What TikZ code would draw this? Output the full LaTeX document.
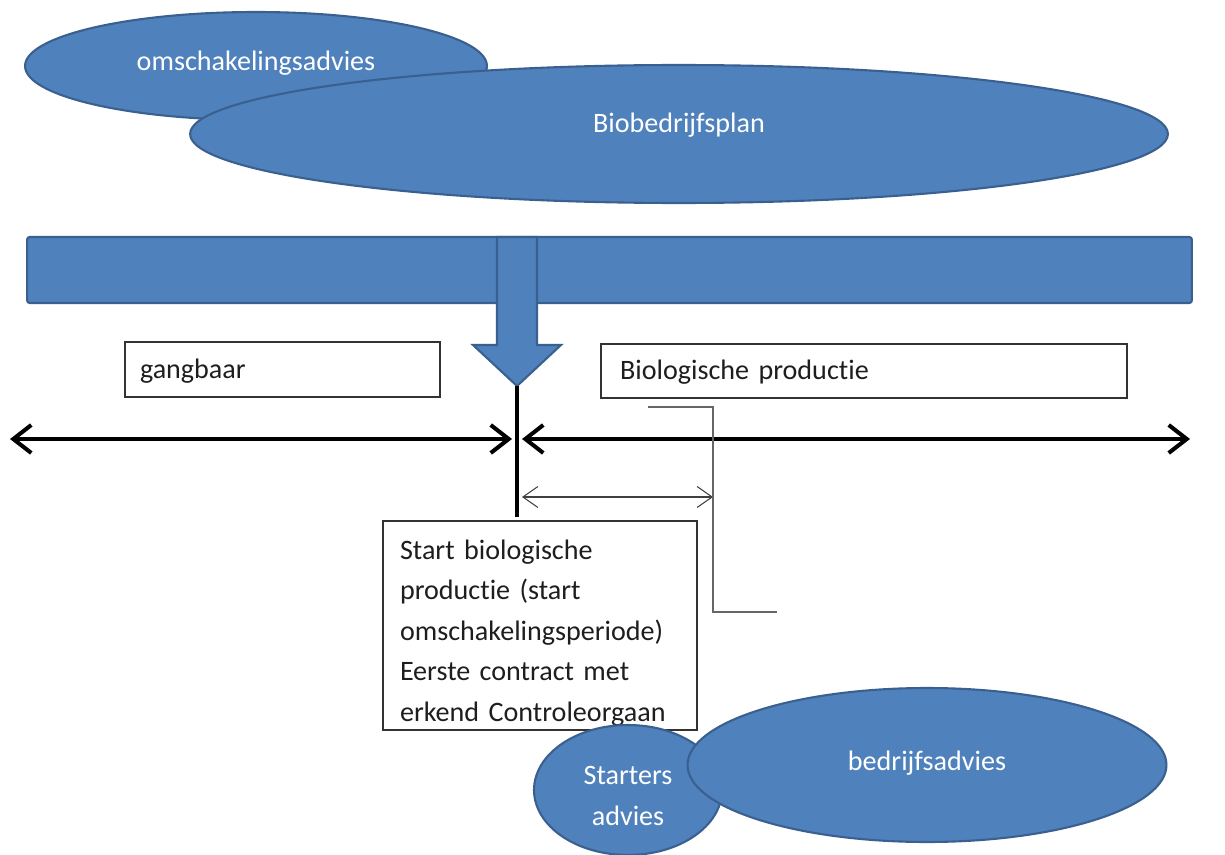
\documentclass[tikz,border=0pt]{standalone}
\usepackage{fontspec}
\setmainfont{Carlito}[Ligatures=NoCommon]
\usetikzlibrary{shapes.geometric,arrows.meta}

\definecolor{advblue}{HTML}{4F81BD}
\definecolor{advedge}{HTML}{3A6090}
\definecolor{boxtext}{HTML}{1E1E1E}

\begin{document}
\begin{tikzpicture}
[
	x	= 0.02cm,	% one unit is one pixel of the layout
	y	= -0.02cm,	% counted downwards, like the layout
	%
	%
	% ----------- options for the blue shapes --------------
	bubble/.style =
	{
		ellipse,
		fill		= advblue,
		draw		= advedge,
		line width	= 1.2pt,
		inner sep	= 0pt
	},
	%
	bubbletext/.style =
	{
		text		= white,
		font		= \fontsize{16}{23}\selectfont,
		align		= center,
		inner sep	= 0pt
	},
	%
	% ----------- options for the white boxes --------------
	infobox/.style =
	{
		draw		= black!80,
		fill		= white,
		line width	= 0.8pt,
		text		= boxtext,
		font		= \fontsize{16}{23}\selectfont,
		align		= left,
		inner ysep	= 0pt
	},
	%
	oneline/.style =
	{
		text height	= 0.42cm,
		text depth	= 0.08cm
	},
	%
	% ----------- options for the lines --------------
	timeline/.style =
	{
		line width	= 2.3pt,
		black,
		{Straight Barb[length=0.36cm, width=0.56cm]}-{Straight Barb[length=0.36cm, width=0.56cm]}
	},
	%
	period/.style =
	{
		line width	= 0.6pt,
		black!75,
		{Straight Barb[length=0.3cm, width=0.42cm]}-{Straight Barb[length=0.3cm, width=0.42cm]}
	},
	%
	bracket/.style =
	{
		line width	= 0.6pt,
		black!60
	}
]

\useasboundingbox (0,0) rectangle (1225,855);

% advice bubbles on top
\node [bubble, minimum width = 9.24cm, minimum height = 2.16cm] (omschakeling) at (256,66) {};
\node [bubbletext] at (256,63) {omschakelingsadvies};
\node [bubble, minimum width = 19.56cm, minimum height = 2.76cm] (plan) at (679,134) {};
\node [bubbletext] at (679,125) {Biobedrijfsplan};

% bar and block arrow
\node [rectangle, fill = advblue, draw = advedge, line width = 1.2pt, rounded corners = 1.5pt,
	minimum width = 23.3cm, minimum height = 1.32cm] (bar) at (609.5,270) {};
\coordinate (arrowtip) at (517,386);
\filldraw [fill = advblue, draw = advedge, line width = 1.2pt, line join = miter]
	(497,237) -- (497,345) -- (473,345) -- (arrowtip) -- (561,345) -- (537,345) -- (537,237) -- cycle;

% periods
\node [infobox, oneline, minimum width = 6.3cm, minimum height = 1.1cm, text width = 5.7cm, inner xsep = 0.3cm]
	(gangbaar) at (282.5,369.5) {gangbaar};
\node [infobox, oneline, minimum width = 10.52cm, minimum height = 1.08cm, text width = 9.76cm, inner xsep = 0.38cm]
	(bio) at (864,371) {Biologische productie};

% actual time line
\coordinate (tlbottom)	at (517,517);
\coordinate (leftend)	at (10,439);
\coordinate (startleft)	at (512,439);
\coordinate (startright) at (522,439);
\coordinate (rightend)	at (1190,439);
\draw [line width = 2.3pt] (arrowtip) -- (tlbottom);
\draw [timeline] (leftend) -- (startleft);
\draw [timeline] (startright) -- (rightend);

% conversion period
\coordinate (periodstart)	at (522,497);
\coordinate (periodend)		at (713,497);
\draw [period] (periodstart) -- (periodend);
\coordinate (brackettop)	at (648,407);
\coordinate (bracketend)	at (777,612);
\draw [bracket] (brackettop) -| (periodend) |- (bracketend);

% start box
\node [infobox, minimum width = 6.28cm, minimum height = 4.18cm] (startbox) at (540,625.5) {};
\node [infobox, draw = none, fill = none, text width = 5.6cm, inner xsep = 0pt]
	(starttext) at (540,633) {Start biologische\\productie (start\\omschakelingsperiode)\\Eerste contract met\\erkend Controleorgaan};

% advice bubbles below
\node [bubble, minimum width = 3.76cm, minimum height = 2.6cm] (starters) at (628,790) {};
\node [bubbletext] at (628,796) {Starters\\advies};
\node [bubble, minimum width = 9.58cm, minimum height = 3.08cm] (bedrijf) at (927,765) {};
\node [bubbletext] at (927,763) {bedrijfsadvies};

\end{tikzpicture}
\end{document}
